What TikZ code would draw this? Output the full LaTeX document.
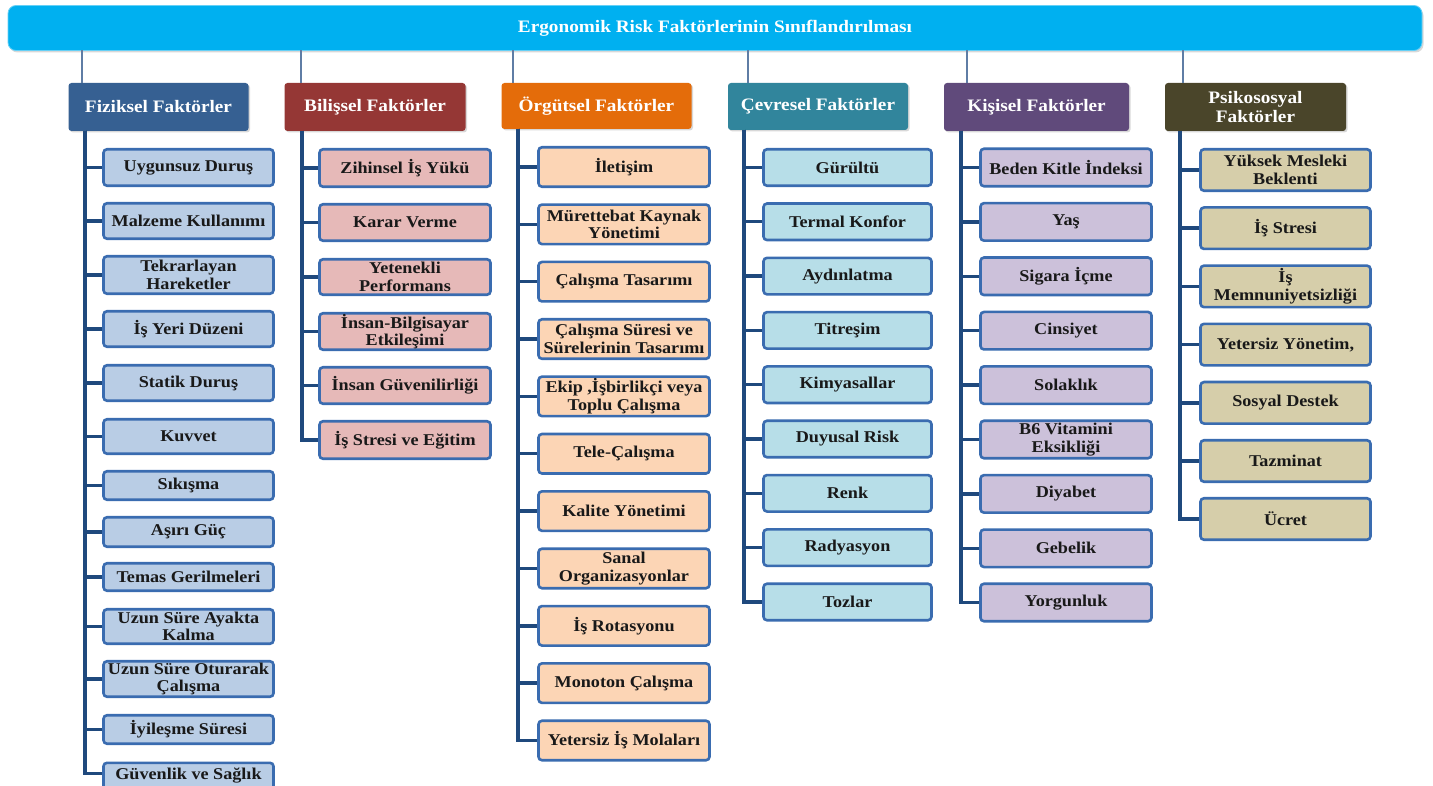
\documentclass[tikz,border=0pt]{standalone}
\usepackage{fontspec}
\setmainfont{Liberation Serif}[FakeStretch=1.1]
\usetikzlibrary{shadows}
\definecolor{fizH}{RGB}{54,96,146}
\definecolor{bilH}{RGB}{149,55,53}
\definecolor{orgH}{RGB}{228,108,10}
\definecolor{cevH}{RGB}{49,133,156}
\definecolor{kisH}{RGB}{96,74,123}
\definecolor{psiH}{RGB}{74,69,42}
\definecolor{fizL}{RGB}{185,205,229}
\definecolor{bilL}{RGB}{230,185,184}
\definecolor{orgL}{RGB}{252,213,181}
\definecolor{cevL}{RGB}{183,222,232}
\definecolor{kisL}{RGB}{204,193,218}
\definecolor{psiL}{RGB}{214,206,170}
\definecolor{itemline}{RGB}{58,108,176}
\definecolor{spinec}{RGB}{31,73,125}
\definecolor{toplnc}{RGB}{95,125,165}
\definecolor{barc}{RGB}{0,176,240}
\definecolor{txt}{RGB}{25,25,25}
\tikzset{
  item/.style={draw=itemline, line width=2.6pt, rounded corners=3.5pt, align=center,
    inner sep=0pt, font=\fontsize{16.5}{17.5}\selectfont\bfseries, text=txt},
  fiz/.style={item, fill=fizL, minimum width=170pt},
  bil/.style={item, fill=bilL, minimum width=171pt},
  org/.style={item, fill=orgL, minimum width=171pt, minimum height=39.5pt},
  cev/.style={item, fill=cevL, minimum width=168pt, minimum height=36.5pt},
  kis/.style={item, fill=kisL, minimum width=171pt, minimum height=37.5pt},
  psi/.style={item, fill=psiL, minimum width=170pt, minimum height=41.5pt},
  hdr/.style={rounded corners=3pt, align=center, inner sep=0pt, text=white,
    font=\fontsize{17.5}{19}\selectfont\bfseries,
    drop shadow={opacity=0.3, shadow xshift=1.5pt, shadow yshift=-1.5pt}},
  spine/.style={draw=spinec, line width=3.4pt},
  topln/.style={draw=toplnc, line width=1.4pt},
}
\begin{document}
\begin{tikzpicture}[x=1pt,y=-1pt]
\clip (0,0) rectangle (1433,786);
\fill[white] (0,0) rectangle (1433,786);

% top bar
\node[fill=barc, draw=barc!60!white, line width=0.8pt, rounded corners=8pt,
  minimum width=1414pt, minimum height=45pt, inner sep=0pt, text=white,
  font=\fontsize{17.5}{19}\selectfont\bfseries,
  drop shadow={opacity=0.3, shadow xshift=1.5pt, shadow yshift=-2pt}]
  (T) at (715,28) {Ergonomik Risk Faktörlerinin Sınıflandırılması};

% headers
\node[hdr, fill=fizH, minimum width=180pt, minimum height=48pt] (F) at (158.5,107) {Fiziksel Faktörler};
\node[hdr, fill=bilH, minimum width=181pt, minimum height=48pt] (B) at (375,107) {Bilişsel Faktörler};
\node[hdr, fill=orgH, minimum width=190pt, minimum height=46pt] (O) at (596.5,106) {Örgütsel Faktörler};
\node[hdr, fill=cevH, minimum width=180pt, minimum height=47pt] (C) at (818,106.5) {Çevresel Faktörler};
\node[hdr, fill=kisH, minimum width=185pt, minimum height=48pt] (K) at (1036.5,107) {Kişisel Faktörler};
\node[hdr, fill=psiH, minimum width=181pt, minimum height=48pt] (P) at (1255.5,107) {Psikososyal\\Faktörler};

% top connectors
\coordinate (Ft) at (82,50.5);
\coordinate (Bt) at (301,50.5);
\coordinate (Ot) at (513,50.5);
\coordinate (Ct) at (748,50.5);
\coordinate (Kt) at (967,50.5);
\coordinate (Pt) at (1183,50.5);
\foreach \a/\b in {Ft/F,Bt/B,Ot/O,Ct/C,Kt/K,Pt/P}
  \draw[topln] (\a) -- (\a |- \b.north);

% Fiziksel items
\node[fiz, minimum height=36.5pt] (f1) at (188.5,167.5) {Uygunsuz Duruş};
\node[fiz, minimum height=35.5pt] (f2) at (188.5,221) {Malzeme Kullanımı};
\node[fiz, minimum height=37.5pt] (f3) at (188.5,275) {Tekrarlayan\\Hareketler};
\node[fiz, minimum height=35.5pt] (f4) at (188.5,329) {İş Yeri Düzeni};
\node[fiz, minimum height=35.5pt] (f5) at (188.5,383) {Statik Duruş};
\node[fiz, minimum height=34.5pt] (f6) at (188.5,436.5) {Kuvvet};
\node[fiz, minimum height=28.5pt] (f7) at (188.5,485.5) {Sıkışma};
\node[fiz, minimum height=29.5pt] (f8) at (188.5,532) {Aşırı Güç};
\node[fiz, minimum height=27.5pt] (f9) at (188.5,577) {Temas Gerilmeleri};
\node[fiz, minimum height=34.5pt] (f10) at (188.5,626.5) {Uzun Süre Ayakta\\Kalma};
\node[fiz, minimum height=35.5pt] (f11) at (188.5,679) {Uzun Süre Oturarak\\Çalışma};
\node[fiz, minimum height=28.5pt] (f12) at (188.5,729.5) {İyileşme Süresi};
\node[fiz, minimum height=39.5pt, anchor=north] (f13) at (188.5,761.5) {Güvenlik ve Sağlık\\\phantom{X}};
\coordinate (Fs) at (85,131);
\foreach \i in {1,...,12} \draw[spine] (Fs) |- (f\i.west);
\draw[spine] (Fs) |- ([yshift=9pt]f13.west);

% Bilissel items
\node[bil, minimum height=37.5pt] (b1) at (405,168) {Zihinsel İş Yükü};
\node[bil, minimum height=36.5pt] (b2) at (405,222.5) {Karar Verme};
\node[bil, minimum height=35.5pt] (b3) at (405,277) {Yetenekli\\Performans};
\node[bil, minimum height=36.5pt] (b4) at (405,331.5) {İnsan-Bilgisayar\\Etkileşimi};
\node[bil, minimum height=36.5pt] (b5) at (405,385.5) {İnsan Güvenilirliği};
\node[bil, minimum height=37.5pt] (b6) at (405,440) {İş Stresi ve Eğitim};
\coordinate (Bs) at (302,131);
\foreach \i in {1,...,6} \draw[spine] (Bs) |- (b\i.west);

% Orgutsel items
\node[org] (o1) at (624,167) {İletişim};
\node[org] (o2) at (624,224.35) {Mürettebat Kaynak\\Yönetimi};
\node[org] (o3) at (624,281.7) {Çalışma Tasarımı};
\node[org] (o4) at (624,339.05) {Çalışma Süresi ve\\Sürelerinin Tasarımı};
\node[org] (o5) at (624,396.4) {Ekip ,İşbirlikçi veya\\Toplu  Çalışma};
\node[org] (o6) at (624,453.75) {Tele-Çalışma};
\node[org] (o7) at (624,511.1) {Kalite Yönetimi};
\node[org] (o8) at (624,568.45) {Sanal\\Organizasyonlar};
\node[org] (o9) at (624,625.8) {İş Rotasyonu};
\node[org] (o10) at (624,683.15) {Monoton Çalışma};
\node[org] (o11) at (624,740.5) {Yetersiz İş Molaları};
\coordinate (Os) at (518,129);
\foreach \i in {1,...,11} \draw[spine] (Os) |- (o\i.west);

% Cevresel items
\node[cev] (c1) at (847.5,167.5) {Gürültü};
\node[cev] (c2) at (847.5,221.8) {Termal Konfor};
\node[cev] (c3) at (847.5,276.1) {Aydınlatma};
\node[cev] (c4) at (847.5,330.4) {Titreşim};
\node[cev] (c5) at (847.5,384.7) {Kimyasallar};
\node[cev] (c6) at (847.5,439) {Duyusal Risk};
\node[cev] (c7) at (847.5,493.3) {Renk};
\node[cev] (c8) at (847.5,547.6) {Radyasyon};
\node[cev] (c9) at (847.5,602) {Tozlar};
\coordinate (Cs) at (744,130);
\foreach \i in {1,...,9} \draw[spine] (Cs) |- (c\i.west);

% Kisisel items
\node[kis] (k1) at (1066,167.5) {Beden Kitle İndeksi};
\node[kis] (k2) at (1066,221.9) {Yaş};
\node[kis] (k3) at (1066,276.3) {Sigara İçme};
\node[kis] (k4) at (1066,330.7) {Cinsiyet};
\node[kis] (k5) at (1066,385.1) {Solaklık};
\node[kis] (k6) at (1066,439.5) {B6 Vitamini\\Eksikliği};
\node[kis] (k7) at (1066,493.9) {Diyabet};
\node[kis] (k8) at (1066,548.3) {Gebelik};
\node[kis] (k9) at (1066,602.5) {Yorgunluk};
\coordinate (Ks) at (961,131);
\foreach \i in {1,...,9} \draw[spine] (Ks) |- (k\i.west);

% Psikososyal items
\node[psi] (p1) at (1285.5,170) {Yüksek Mesleki\\Beklenti};
\node[psi] (p2) at (1285.5,228.2) {İş Stresi};
\node[psi] (p3) at (1285.5,286.4) {İş\\Memnuniyetsizliği};
\node[psi] (p4) at (1285.5,344.6) {Yetersiz Yönetim,};
\node[psi] (p5) at (1285.5,402.8) {Sosyal Destek};
\node[psi] (p6) at (1285.5,461) {Tazminat};
\node[psi] (p7) at (1285.5,519) {Ücret};
\coordinate (Ps) at (1180,131);
\foreach \i in {1,...,7} \draw[spine] (Ps) |- (p\i.west);
\end{tikzpicture}
\end{document}
